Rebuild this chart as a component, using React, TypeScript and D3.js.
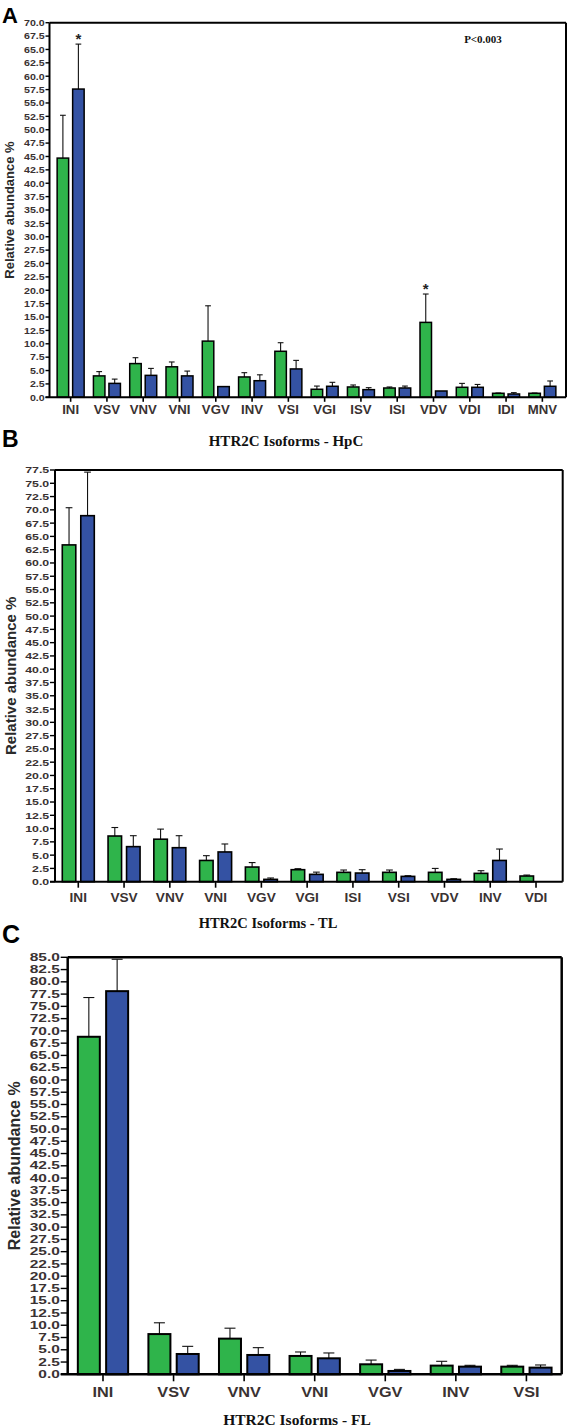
import React from "react";
import * as d3 from "d3";

// ---------- DATA ----------
const catsA = ["INI", "VSV", "VNV", "VNI", "VGV", "INV", "VSI", "VGI", "ISV", "ISI", "VDV", "VDI", "IDI", "MNV"];
const greenA = [44.7, 4.0, 6.3, 5.7, 10.5, 3.8, 8.6, 1.5, 1.93, 1.74, 14.0, 1.87, 0.75, 0.75];
const greenErrA = [52.7, 4.8, 7.4, 6.6, 17.1, 4.6, 10.2, 2.1, 2.3, 1.93, 19.3, 2.6, 0.8, 0.8];
const blueA = [57.6, 2.6, 4.1, 4.0, 2.0, 3.1, 5.3, 2.06, 1.43, 1.74, 1.18, 1.87, 0.62, 2.06];
const blueErrA = [66.0, 3.4, 5.4, 4.9, 2.0, 4.2, 6.9, 2.8, 1.8, 2.1, 1.18, 2.4, 0.87, 3.05];
const starsA = [{ cat: "INI", series: "blue" }, { cat: "VDV", series: "green" }];

const catsB = ["INI", "VSV", "VNV", "VNI", "VGV", "VGI", "ISI", "VSI", "VDV", "INV", "VDI"];
const greenB = [63.4, 8.6, 8.0, 4.0, 2.76, 2.26, 1.76, 1.76, 1.76, 1.57, 1.07];
const greenErrB = [70.4, 10.2, 9.9, 4.9, 3.6, 2.45, 2.2, 2.2, 2.5, 2.07, 1.25];
const blueB = [68.9, 6.6, 6.4, 5.6, 0.44, 1.38, 1.63, 1.0, 0.44, 4.0, 0];
const blueErrB = [77.1, 8.66, 8.66, 7.1, 0.7, 1.8, 2.26, 1.13, 0.56, 6.15, 0];

const catsC = ["INI", "VSV", "VNV", "VNI", "VGV", "INV", "VSI"];
const greenC = [68.8, 8.2, 7.27, 3.74, 2.04, 1.77, 1.56];
const greenErrC = [76.8, 10.5, 9.4, 4.55, 2.9, 2.65, 1.83];
const blueC = [78.1, 4.14, 3.94, 3.26, 0.68, 1.56, 1.36];
const blueErrC = [84.6, 5.7, 5.43, 4.35, 1.0, 1.83, 1.9];

const yMaxA = 70;
const yMaxB = 77.5;
const yMaxC = 85;
const yStep = 2.5;

const titleA = "HTR2C Isoforms - HpC";
const titleB = "HTR2C Isoforms - TL";
const titleC = "HTR2C Isoforms - FL";
const yTitle = "Relative abundance %";
const pNote = "P<0.003";

// ---------- STYLE ----------
const GREEN = "#2fb44b";
const BLUE = "#3452a3";
const TXT = "#3a3232";
const SANS = "'Liberation Sans', Arial, sans-serif";
const SERIF = "'Liberation Serif', 'Times New Roman', serif";

type PanelProps = {
  cats: string[];
  green: number[];
  greenErr: number[];
  blue: number[];
  blueErr: number[];
  yMax: number;
  stars?: { cat: string; series: string }[];
  top: number;
  bottom: number;
  left: number;
  right: number;
  band: [number, number];
  barW: number;
  gap: number;
  strokeW: number;
  axisW: number;
  tickLen: number;
  tickFont: number;
  tickSx: number;
  xFont: number;
  xLabelY: number;
  xSx: number;
  xTickLen: number;
  title: string;
  titleX: number;
  titleY: number;
  titleSize: number;
  yLabX: number;
  yLabSize: number;
  letter: string;
  letterY: number;
  letterSize: number;
};

function Panel(p: PanelProps) {
  const x = d3.scaleBand<string>().domain(p.cats).range(p.band).padding(0);
  const y = d3.scaleLinear().domain([0, p.yMax]).range([p.bottom, p.top]);
  const ticks = d3.range(0, p.yMax + 1e-9, yStep);
  const yMid = (p.top + p.bottom) / 2;
  const bars: any[] = [];
  p.cats.forEach((c, i) => {
    const cx = (x(c) as number) + x.bandwidth() / 2;
    const items = [
      { s: "green", v: p.green[i], e: p.greenErr[i], x0: cx - p.gap / 2 - p.barW, fill: GREEN },
      { s: "blue", v: p.blue[i], e: p.blueErr[i], x0: cx + p.gap / 2, fill: BLUE },
    ];
    items.forEach((it) => {
      if (it.v <= 0) return;
      const mid = it.x0 + p.barW / 2;
      const capW = p.barW * 0.5;
      bars.push(
        <g key={c + it.s}>
          {it.e > it.v && (
            <g stroke="#111" strokeWidth={1.1}>
              <line x1={mid} x2={mid} y1={y(it.v)} y2={y(it.e)} />
              <line x1={mid - capW / 2} x2={mid + capW / 2} y1={y(it.e)} y2={y(it.e)} />
            </g>
          )}
          <rect
            x={it.x0}
            y={y(it.v)}
            width={p.barW}
            height={Math.max(0.5, p.bottom - y(it.v))}
            fill={it.fill}
            stroke="#000"
            strokeWidth={p.strokeW}
          />
        </g>
      );
      if (p.stars && p.stars.some((s) => s.cat === c && s.series === it.s)) {
        bars.push(
          <text
            key={c + it.s + "star"}
            x={mid}
            y={y(Math.max(it.e, it.v)) - 0.5}
            textAnchor="middle"
            fontFamily={SANS}
            fontWeight="bold"
            fontSize={15}
            fill="#222"
          >
            *
          </text>
        );
      }
    });
  });

  return (
    <g>
      <text x={2} y={p.letterY} fontFamily={SANS} fontWeight="bold" fontSize={p.letterSize} fill="#000">
        {p.letter}
      </text>
      {/* frame */}
      <line x1={p.left} x2={p.right} y1={p.top} y2={p.top} stroke="#000" strokeWidth={p.axisW} />
      <line x1={p.right} x2={p.right} y1={p.top} y2={p.bottom} stroke="#000" strokeWidth={p.axisW} />
      {bars}
      {/* y axis */}
      <line x1={p.left} x2={p.left} y1={p.top} y2={p.bottom} stroke="#000" strokeWidth={p.axisW} />
      {ticks.map((t) => (
        <g key={"yt" + t}>
          <line x1={p.left - p.tickLen} x2={p.left} y1={y(t)} y2={y(t)} stroke="#000" strokeWidth={1.4} />
          <text
            transform={`translate(${p.left - p.tickLen - 0.8},${y(t)}) scale(${p.tickSx},1)`}
            textAnchor="end"
            dominantBaseline="central"
            fontFamily={SANS}
            fontWeight="bold"
            fontSize={p.tickFont}
            fill={TXT}
          >
            {t.toFixed(1)}
          </text>
        </g>
      ))}
      {/* x axis */}
      <line x1={p.left - p.tickLen} x2={p.right} y1={p.bottom} y2={p.bottom} stroke="#000" strokeWidth={p.axisW} />
      {p.cats.map((c) => {
        const cx = (x(c) as number) + x.bandwidth() / 2;
        return (
          <g key={"xt" + c}>
            <line x1={cx} x2={cx} y1={p.bottom} y2={p.bottom + p.xTickLen} stroke="#000" strokeWidth={1.6} />
            <text
              transform={`translate(${cx},${p.xLabelY}) scale(${p.xSx},1)`}
              textAnchor="middle"
              fontFamily={SANS}
              fontWeight="bold"
              fontSize={p.xFont}
              fill={TXT}
            >
              {c}
            </text>
          </g>
        );
      })}
      <text x={p.titleX} y={p.titleY} textAnchor="middle" fontFamily={SERIF} fontWeight="bold" fontSize={p.titleSize} fill="#111">
        {p.title}
      </text>
      <text
        transform={`translate(${p.yLabX},${yMid}) rotate(-90)`}
        textAnchor="middle"
        fontFamily={SANS}
        fontWeight="bold"
        fontSize={p.yLabSize}
        fill="#2a2a2a"
      >
        {yTitle}
      </text>
    </g>
  );
}

export default function App() {
  return (
    <svg
      width={567}
      height={1428}
      style={{ position: "absolute", left: 0, top: 0, background: "#fff" }}
    >
      <rect x={0} y={0} width={567} height={1428} fill="#fff" />
      <Panel
        cats={catsA}
        green={greenA}
        greenErr={greenErrA}
        blue={blueA}
        blueErr={blueErrA}
        yMax={yMaxA}
        stars={starsA}
        top={22.7}
        bottom={397.3}
        left={49.5}
        right={566}
        band={[52.5, 560.5]}
        barW={11.5}
        gap={4}
        strokeW={1.5}
        axisW={2}
        tickLen={4}
        tickFont={9.5}
        tickSx={1.12}
        xFont={12}
        xLabelY={414}
        xSx={1.1}
        xTickLen={4.5}
        title={titleA}
        titleX={286}
        titleY={445.5}
        titleSize={15}
        yLabX={14}
        yLabSize={13}
        letter="A"
        letterY={23}
        letterSize={22}
      />
      <text x={483} y={43} textAnchor="middle" fontFamily={SERIF} fontWeight="bold" fontSize={11} fill="#111">
        {pNote}
      </text>
      <Panel
        cats={catsB}
        green={greenB}
        greenErr={greenErrB}
        blue={blueB}
        blueErr={blueErrB}
        yMax={yMaxB}
        top={470}
        bottom={881.7}
        left={55}
        right={562.7}
        band={[55.4, 558.9]}
        barW={13.5}
        gap={5}
        strokeW={1.6}
        axisW={2}
        tickLen={5}
        tickFont={9.5}
        tickSx={1.3}
        xFont={13}
        xLabelY={901.5}
        xSx={1.05}
        xTickLen={6}
        title={titleB}
        titleX={268}
        titleY={928}
        titleSize={14.5}
        yLabX={16}
        yLabSize={15}
        letter="B"
        letterY={447}
        letterSize={23}
      />
      <Panel
        cats={catsC}
        green={greenC}
        greenErr={greenErrC}
        blue={blueC}
        blueErr={blueErrC}
        yMax={yMaxC}
        top={957.3}
        bottom={1374.3}
        left={67.7}
        right={561.7}
        band={[67.7, 561.7]}
        barW={22}
        gap={6.3}
        strokeW={2}
        axisW={2.5}
        tickLen={7}
        tickFont={10.7}
        tickSx={1.45}
        xFont={15.5}
        xLabelY={1397}
        xSx={1.05}
        xTickLen={7}
        title={titleC}
        titleX={297}
        titleY={1425}
        titleSize={15.5}
        yLabX={20}
        yLabSize={16}
        letter="C"
        letterY={943}
        letterSize={25}
      />
    </svg>
  );
}
